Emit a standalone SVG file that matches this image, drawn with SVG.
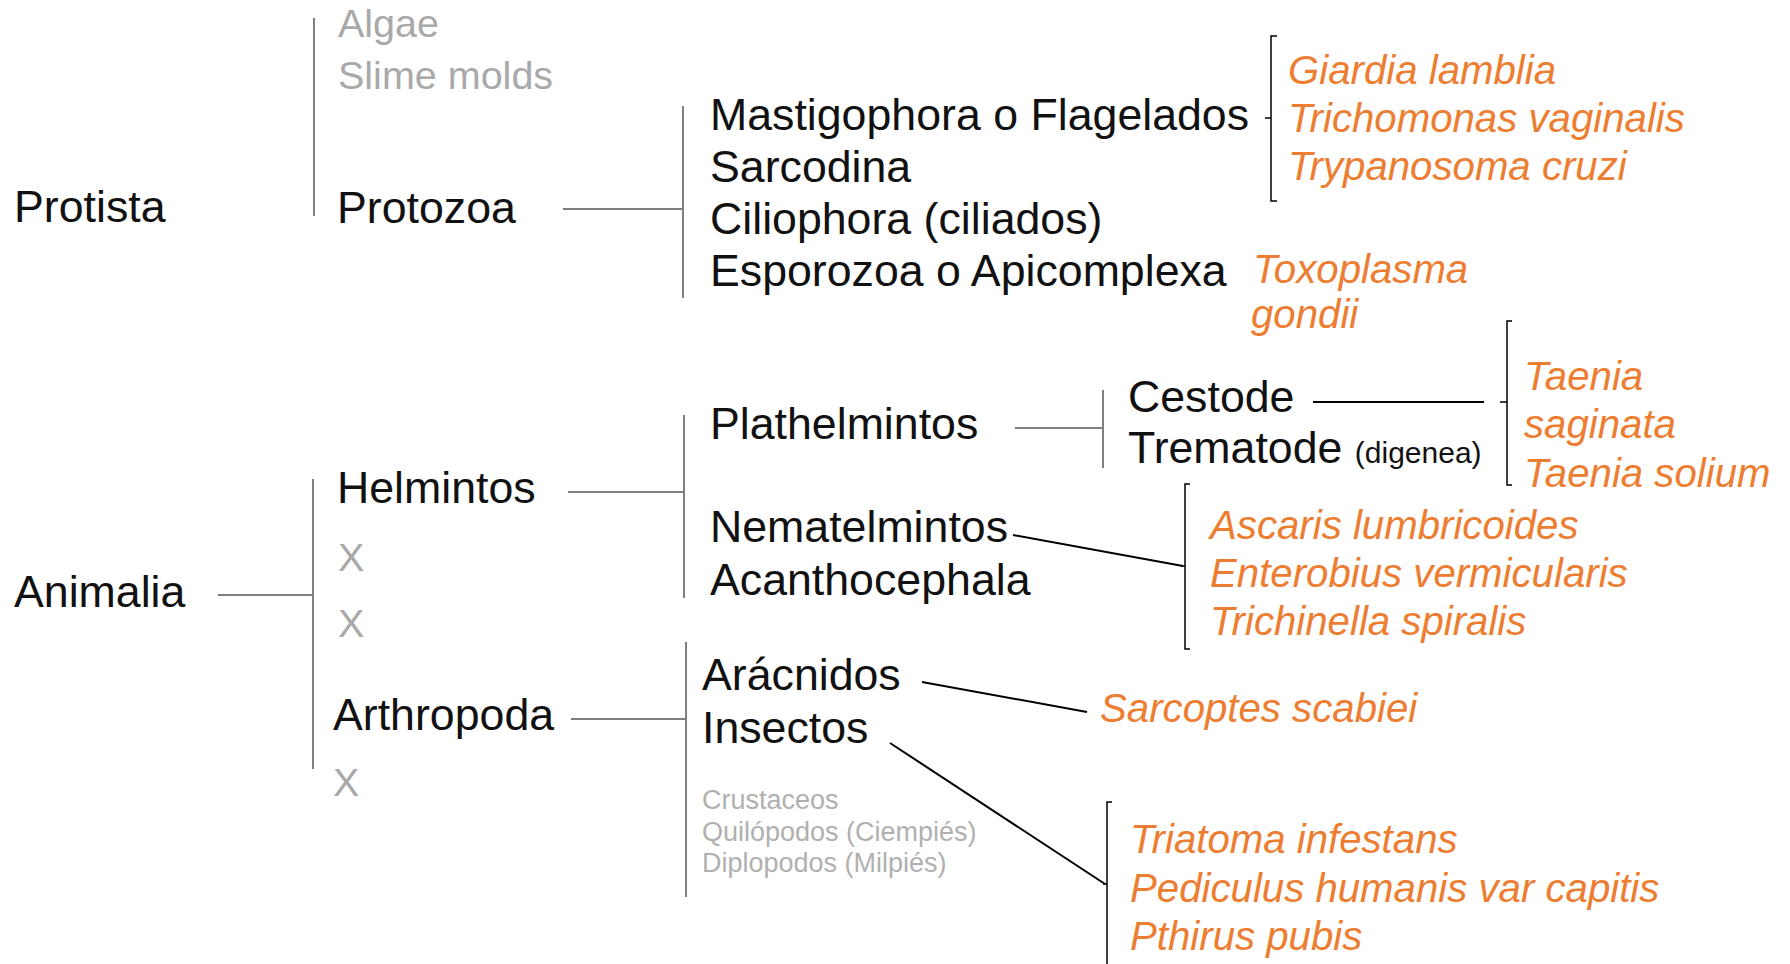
<svg xmlns="http://www.w3.org/2000/svg" width="1790" height="964" viewBox="0 0 1790 964">
<style>
text{font-family:"Liberation Sans",Arial,sans-serif}
.b{font-size:44.7px;fill:#111}
.g{font-size:39.5px;fill:#a9a9a9}
.gs{font-size:27px;fill:#b0b0b0}
.o{font-size:40.2px;fill:#ED7D31;font-style:italic}
.s{font-size:30px;fill:#111}
.gl{stroke:#808080;stroke-width:2;fill:none}
.kl{stroke:#000;stroke-width:2;fill:none}
.br{stroke:#000;stroke-width:1.5;fill:none}
</style>
<rect width="1790" height="964" fill="#fff"/>
<g id="connectors">
<line class="gl" x1="314" y1="18" x2="314" y2="216"/>
<line class="gl" x1="563" y1="209" x2="682" y2="209"/>
<line class="gl" x1="683" y1="106" x2="683" y2="298"/>
<line class="gl" x1="218" y1="595" x2="313" y2="595"/>
<line class="gl" x1="313" y1="479" x2="313" y2="769"/>
<line class="gl" x1="568" y1="492" x2="684" y2="492"/>
<line class="gl" x1="684" y1="415" x2="684" y2="598"/>
<line class="gl" x1="571" y1="719" x2="686" y2="719"/>
<line class="gl" x1="686" y1="642" x2="686" y2="897"/>
<line class="gl" x1="1015" y1="428" x2="1102" y2="428"/>
<line class="gl" x1="1103" y1="390" x2="1103" y2="468"/>
<line class="kl" x1="1313" y1="402" x2="1484" y2="402"/>
<line class="kl" x1="1013" y1="535" x2="1183" y2="566"/>
<line class="kl" x1="922" y1="682" x2="1087" y2="712"/>
<line class="kl" x1="890" y1="743" x2="1105" y2="884"/>
<path class="br" d="M1277,36 H1271 V201 H1277 M1265,118 H1271"/>
<path class="br" d="M1512,321 H1507 V485 H1512 M1500,402 H1507"/>
<path class="br" d="M1190,484 H1185 V649 H1190 M1181,566 H1185"/>
<path class="br" d="M1112,802 H1107 V966 M1103,884 H1107"/>
</g>
<g id="protista"><text class="b" x="14" y="222">Protista</text></g>
<g id="algae"><text class="g" x="338" y="37">Algae</text></g>
<g id="slime"><text class="g" x="338" y="89">Slime molds</text></g>
<g id="protozoa"><text class="b" x="337" y="223">Protozoa</text></g>
<g id="protozoa-sub">
<text class="b" x="710" y="130">Mastigophora o Flagelados</text>
<text class="b" x="710" y="182">Sarcodina</text>
<text class="b" x="710" y="234">Ciliophora (ciliados)</text>
<text class="b" x="710" y="286">Esporozoa o Apicomplexa</text>
</g>
<g id="flagelados-species">
<text class="o" x="1288" y="84">Giardia lamblia</text>
<text class="o" x="1288" y="132">Trichomonas vaginalis</text>
<text class="o" x="1288" y="180">Trypanosoma cruzi</text>
</g>
<g id="toxoplasma">
<text class="o" x="1253" y="283">Toxoplasma</text>
<text class="o" x="1251" y="328">gondii</text>
</g>
<g id="animalia"><text class="b" x="14" y="607">Animalia</text></g>
<g id="helmintos"><text class="b" x="337" y="503">Helmintos</text></g>
<g id="x1"><text class="g" x="338" y="571" font-size="42">X</text></g>
<g id="x2"><text class="g" x="338" y="637" font-size="42">X</text></g>
<g id="arthropoda"><text class="b" x="333" y="730">Arthropoda</text></g>
<g id="x3"><text class="g" x="333" y="796" font-size="42">X</text></g>
<g id="plathelmintos"><text class="b" x="710" y="439">Plathelmintos</text></g>
<g id="cestode"><text class="b" x="1128" y="412">Cestode</text></g>
<g id="trematode"><text class="b" x="1128" y="463">Trematode <tspan class="s" font-size="30">(digenea)</tspan></text></g>
<g id="taenia">
<text class="o" x="1524" y="390">Taenia</text>
<text class="o" x="1524" y="438">saginata</text>
<text class="o" x="1524" y="487">Taenia solium</text>
</g>
<g id="nematelmintos"><text class="b" x="710" y="542">Nematelmintos</text></g>
<g id="acanthocephala"><text class="b" x="710" y="595">Acanthocephala</text></g>
<g id="nematodes-species">
<text class="o" x="1210" y="539">Ascaris lumbricoides</text>
<text class="o" x="1210" y="587">Enterobius vermicularis</text>
<text class="o" x="1210" y="635">Trichinella spiralis</text>
</g>
<g id="aracnidos"><text class="b" x="702" y="690">Arácnidos</text></g>
<g id="insectos"><text class="b" x="702" y="743">Insectos</text></g>
<g id="other-arthropods">
<text class="gs" x="702" y="809">Crustaceos</text>
<text class="gs" x="702" y="841">Quilópodos (Ciempiés)</text>
<text class="gs" x="702" y="872">Diplopodos (Milpiés)</text>
</g>
<g id="sarcoptes"><text class="o" x="1100" y="722">Sarcoptes scabiei</text></g>
<g id="insect-species">
<text class="o" x="1130" y="853">Triatoma infestans</text>
<text class="o" x="1130" y="902">Pediculus humanis var capitis</text>
<text class="o" x="1130" y="950">Pthirus pubis</text>
</g>
</svg>
